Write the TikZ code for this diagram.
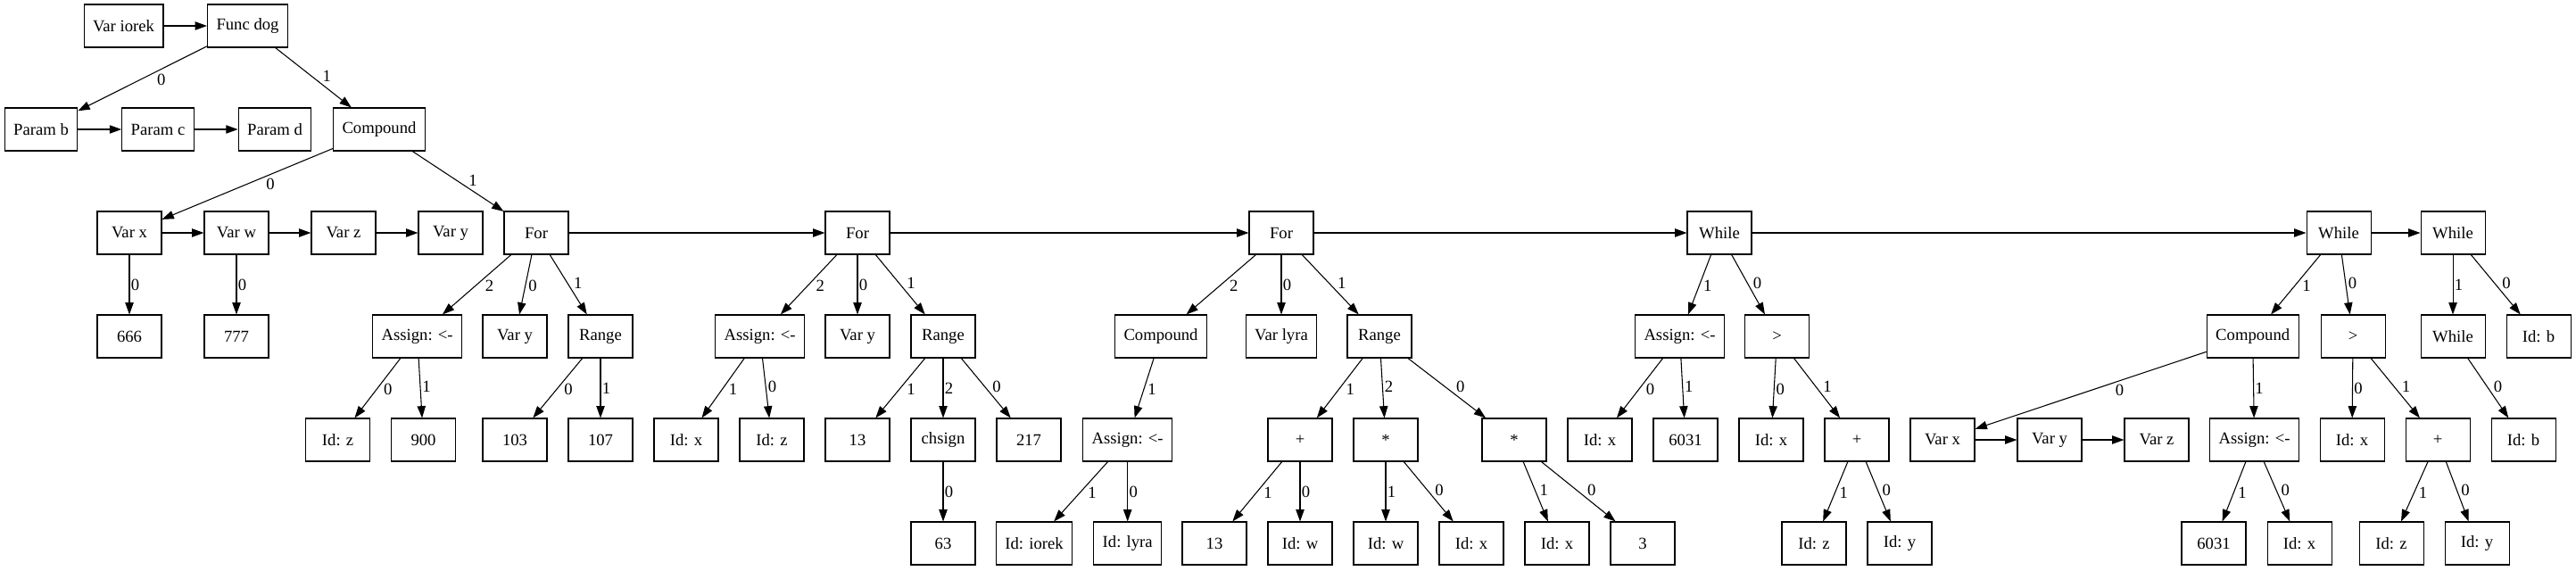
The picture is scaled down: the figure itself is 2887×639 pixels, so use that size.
\documentclass[tikz,border=0pt]{standalone}
\usepackage{fontspec}
\setmainfont{Liberation Serif}
\usetikzlibrary{arrows.meta}

\begin{document}
\begin{tikzpicture}[x=0.75pt, y=-0.75pt, font=\fontsize{14pt}{16pt}\selectfont,
  box/.style={draw, line width=0.8pt, minimum width=54pt, minimum height=36pt, inner xsep=7.5pt, inner ysep=2pt},
  link/.style={line width=0.8pt, -{Triangle[length=10pt,width=7pt]}},
  dl/.style={auto, inner sep=1pt, pos=0.4},
  dr/.style={auto, inner sep=1pt, pos=0.6},
  dv/.style={auto, inner sep=1pt, pos=0.5}]
\useasboundingbox (0,0) rectangle (2887,639);
\node[box] (viorek) at (138.5,29) {Var iorek};
\node[box] (fdog) at (277.5,29) {Func dog};
\node[box] (pb) at (46,145) {Param b};
\node[box] (pc) at (177,145) {Param c};
\node[box] (pd) at (308,145) {Param d};
\node[box] (comp) at (425,145) {Compound};
\node[box] (vx) at (145,261) {Var x};
\node[box] (vw) at (265,261) {Var w};
\node[box] (vz) at (385,261) {Var z};
\node[box] (vy) at (505,261) {Var y};
\node[box] (for1) at (601,261) {For};
\node[box] (for2) at (961,261) {For};
\node[box] (for3) at (1436,261) {For};
\node[box] (wh1) at (1927,261) {While};
\node[box] (wh2) at (2621,261) {While};
\node[box] (wh3) at (2749,261) {While};
\node[box] (n666) at (145,377) {666};
\node[box] (n777) at (265,377) {777};
\node[box] (as1) at (467.7,377) {Assign: <-};
\node[box] (vy1) at (577,377) {Var y};
\node[box] (rg1) at (673,377) {Range};
\node[box] (as2) at (851.7,377) {Assign: <-};
\node[box] (vy2) at (961,377) {Var y};
\node[box] (rg2) at (1057,377) {Range};
\node[box] (comp3) at (1301,377) {Compound};
\node[box] (vlyra) at (1436,377) {Var lyra};
\node[box] (rg3) at (1546,377) {Range};
\node[box] (as4) at (1882.5,377) {Assign: <-};
\node[box] (gt1) at (1991.6,377) {>};
\node[box] (comp2) at (2524.7,377) {Compound};
\node[box] (gt2) at (2637,377) {>};
\node[box] (wh4) at (2749,377) {While};
\node[box] (idb1) at (2845,377) {Id: b};
\node[box] (idz1) at (378.6,493) {Id: z};
\node[box] (n900) at (474.5,493) {900};
\node[box] (n103) at (577,493) {103};
\node[box] (n107) at (673,493) {107};
\node[box] (idx2) at (769,493) {Id: x};
\node[box] (idz2) at (865,493) {Id: z};
\node[box] (n13a) at (961,493) {13};
\node[box] (chs) at (1057,493) {chsign};
\node[box] (n217) at (1153,493) {217};
\node[box] (as3) at (1263.7,493) {Assign: <-};
\node[box] (plus1) at (1457,493) {+};
\node[box] (mul1) at (1553,493) {*};
\node[box] (mul2) at (1697,493) {*};
\node[box] (idx4) at (1793,493) {Id: x};
\node[box] (n6031a) at (1889,493) {6031};
\node[box] (idx5) at (1985,493) {Id: x};
\node[box] (plus2) at (2081,493) {+};
\node[box] (vx2) at (2177,493) {Var x};
\node[box] (vy3) at (2297,493) {Var y};
\node[box] (vz2) at (2417,493) {Var z};
\node[box] (as5) at (2526.5,493) {Assign: <-};
\node[box] (idx6) at (2636,493) {Id: x};
\node[box] (plus3) at (2732,493) {+};
\node[box] (idb2) at (2828,493) {Id: b};
\node[box] (n63) at (1057,609) {63};
\node[box] (idiorek) at (1159,609) {Id: iorek};
\node[box] (idlyra) at (1263.7,609) {Id: lyra};
\node[box] (n13b) at (1361,609) {13};
\node[box] (idw1) at (1457,609) {Id: w};
\node[box] (idw2) at (1553,609) {Id: w};
\node[box] (idx7) at (1649,609) {Id: x};
\node[box] (idx8) at (1745,609) {Id: x};
\node[box] (n3) at (1841,609) {3};
\node[box] (idz3) at (2033,609) {Id: z};
\node[box] (idy1) at (2129,609) {Id: y};
\node[box] (n6031b) at (2481,609) {6031};
\node[box] (idx9) at (2577,609) {Id: x};
\node[box] (idz4) at (2680,609) {Id: z};
\node[box] (idy2) at (2776,609) {Id: y};
\draw[link] (viorek) -- (fdog);
\draw[link] (pb) -- (pc);
\draw[link] (pc) -- (pd);
\draw[link] (vx) -- (vw);
\draw[link] (vw) -- (vz);
\draw[link] (vz) -- (vy);
\draw[link] (for1) -- (for2);
\draw[link] (for2) -- (for3);
\draw[link] (for3) -- (wh1);
\draw[link] (wh1) -- (wh2);
\draw[link] (wh2) -- (wh3);
\draw[link] (vx2) -- (vy3);
\draw[link] (vy3) -- (vz2);
\draw[link] (fdog) -- node[dl] {0} (pb);
\draw[link] (fdog) -- node[dr] {1} (comp);
\draw[link] (comp) -- node[dl] {0} (vx);
\draw[link] (comp) -- node[dr] {1} (for1);
\draw[link] (vx) -- node[dv] {0} (n666);
\draw[link] (vw) -- node[dv] {0} (n777);
\draw[link] (for1) -- node[dl] {2} (as1);
\draw[link] (for1) -- node[dl] {0} (vy1);
\draw[link] (for1) -- node[dr] {1} (rg1);
\draw[link] (as1) -- node[dl] {0} (idz1);
\draw[link] (as1) -- node[dr] {1} (n900);
\draw[link] (rg1) -- node[dl] {0} (n103);
\draw[link] (rg1) -- node[dv] {1} (n107);
\draw[link] (for2) -- node[dl] {2} (as2);
\draw[link] (for2) -- node[dv] {0} (vy2);
\draw[link] (for2) -- node[dr] {1} (rg2);
\draw[link] (as2) -- node[dl] {1} (idx2);
\draw[link] (as2) -- node[dr] {0} (idz2);
\draw[link] (rg2) -- node[dl] {1} (n13a);
\draw[link] (rg2) -- node[dv] {2} (chs);
\draw[link] (rg2) -- node[dr] {0} (n217);
\draw[link] (chs) -- node[dv] {0} (n63);
\draw[link] (for3) -- node[dl] {2} (comp3);
\draw[link] (for3) -- node[dv] {0} (vlyra);
\draw[link] (for3) -- node[dr] {1} (rg3);
\draw[link] (comp3) -- node[dl] {1} (as3);
\draw[link] (as3) -- node[dl] {1} (idiorek);
\draw[link] (as3) -- node[dv] {0} (idlyra);
\draw[link] (rg3) -- node[dl] {1} (plus1);
\draw[link] (rg3) -- node[dr] {2} (mul1);
\draw[link] (rg3) -- node[dr] {0} (mul2);
\draw[link] (plus1) -- node[dl] {1} (n13b);
\draw[link] (plus1) -- node[dv] {0} (idw1);
\draw[link] (mul1) -- node[dv] {1} (idw2);
\draw[link] (mul1) -- node[dr] {0} (idx7);
\draw[link] (mul2) -- node[dr] {1} (idx8);
\draw[link] (mul2) -- node[dr] {0} (n3);
\draw[link] (wh1) -- node[dl] {1} (as4);
\draw[link] (wh1) -- node[dr] {0} (gt1);
\draw[link] (as4) -- node[dl] {0} (idx4);
\draw[link] (as4) -- node[dr] {1} (n6031a);
\draw[link] (gt1) -- node[dl] {0} (idx5);
\draw[link] (gt1) -- node[dr] {1} (plus2);
\draw[link] (plus2) -- node[dl] {1} (idz3);
\draw[link] (plus2) -- node[dr] {0} (idy1);
\draw[link] (wh2) -- node[dl] {1} (comp2);
\draw[link] (wh2) -- node[dr] {0} (gt2);
\draw[link] (comp2) -- node[dl] {0} (vx2);
\draw[link] (comp2) -- node[dv] {1} (as5);
\draw[link] (as5) -- node[dl] {1} (n6031b);
\draw[link] (as5) -- node[dr] {0} (idx9);
\draw[link] (gt2) -- node[dv] {0} (idx6);
\draw[link] (gt2) -- node[dr] {1} (plus3);
\draw[link] (plus3) -- node[dl] {1} (idz4);
\draw[link] (plus3) -- node[dr] {0} (idy2);
\draw[link] (wh3) -- node[dv] {1} (wh4);
\draw[link] (wh3) -- node[dr] {0} (idb1);
\draw[link] (wh4) -- node[dr] {0} (idb2);
\end{tikzpicture}
\end{document}
